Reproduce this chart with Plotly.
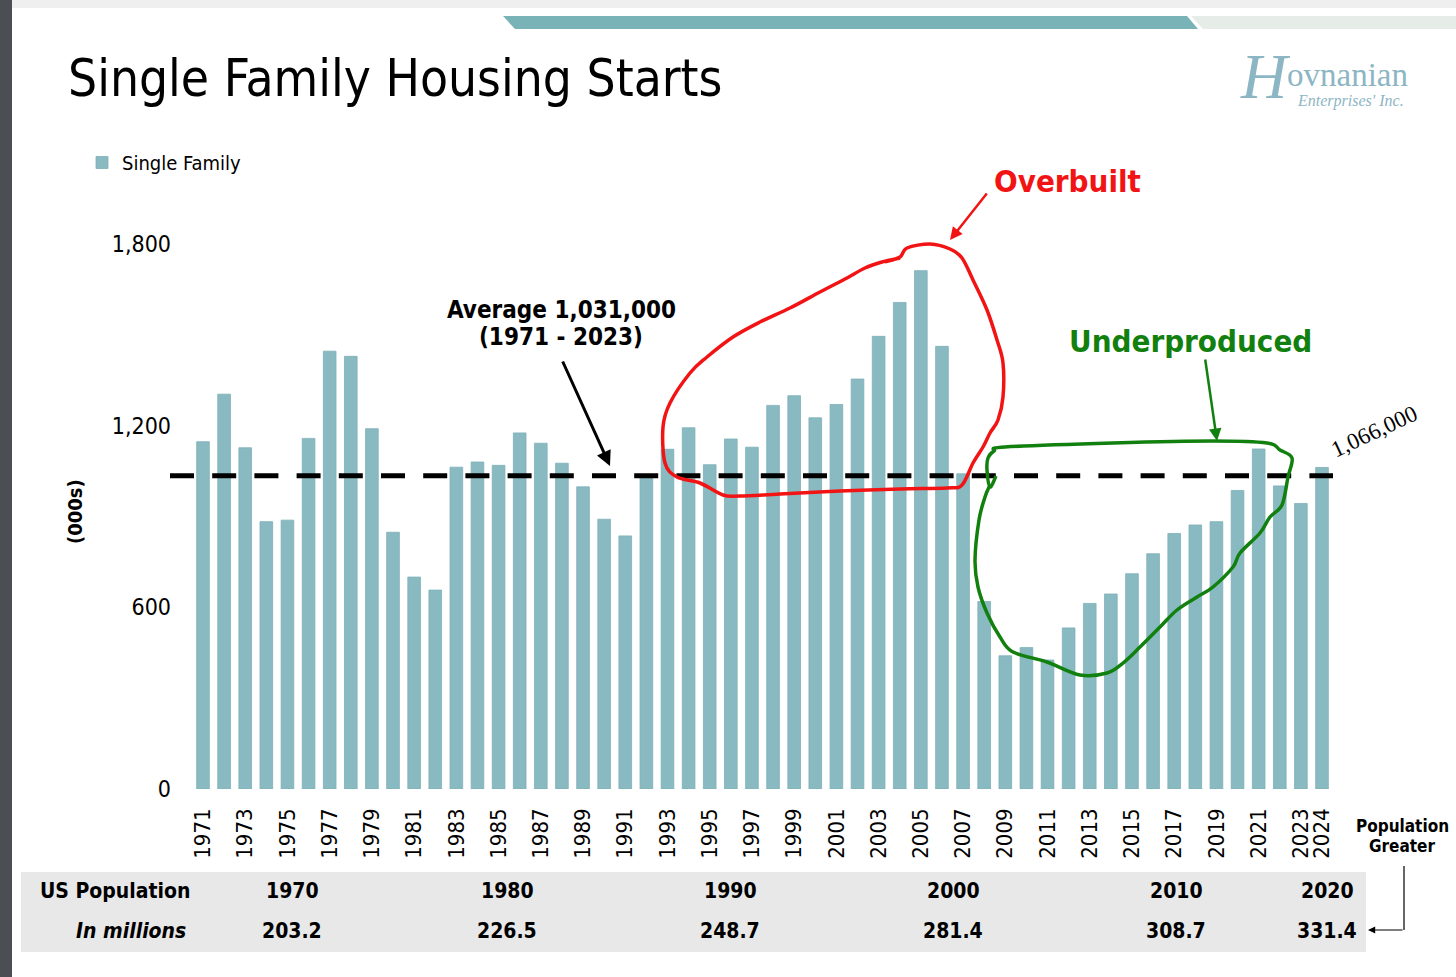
import plotly.graph_objects as go

# ---------------- data ----------------
years = list(range(1971, 2025))
starts = [1147, 1304, 1127, 883, 888, 1158, 1446, 1429, 1190, 848,
          700, 657, 1063, 1080, 1069, 1176, 1142, 1076, 998, 891,
          836, 1028, 1122, 1193, 1071, 1156, 1129, 1267, 1299, 1226,
          1270, 1354, 1495, 1607, 1712, 1462, 1041, 619, 440, 467,
          426, 532, 613, 644, 711, 777, 844, 872, 883, 986,
          1123, 1001, 943, 1062]
tick_years = list(range(1971, 2024, 2)) + [2024]
y_ticks = [0, 600, 1200, 1800]
y_tick_text = ["0", "600", "1,200", "1,800"]
avg_level = 1035
pop_years = ["1970", "1980", "1990", "2000", "2010", "2020"]
pop_values = ["203.2", "226.5", "248.7", "281.4", "308.7", "331.4"]

# ---------------- layout geometry ----------------
FW, FH = 1456, 977
L, R, T, B = 176, 1340, 200, 789
PW, PH = R - L, B - T
step = (1322 - 203) / 53.0
x_range = [1971 - (203 - L) / step, 2024 + (R - 1322) / step]
y_range = [0, 1800 * (B - T) / (789 - 244)]


def px(x):
    return (x - L) / PW


def py(y):
    return (B - y) / PH


FONT = "DejaVu Sans Condensed, DejaVu Sans, sans-serif"
SERIF = "Liberation Serif, DejaVu Serif, serif"
BAR = "#89BAC1"
RED = "#F21414"
GREEN = "#12800F"
LOGO = "#8DB6C4"


def smooth_path(pts):
    # Catmull-Rom -> cubic bezier, in paper coords
    P = [(px(a), py(b)) for a, b in pts]
    n = len(P)
    d = "M %.5f %.5f" % P[0]
    for i in range(n - 1):
        p0 = P[i - 1] if i > 0 else P[i]
        p1 = P[i]
        p2 = P[i + 1]
        p3 = P[i + 2] if i + 2 < n else P[i + 1]
        c1 = (p1[0] + (p2[0] - p0[0]) / 6, p1[1] + (p2[1] - p0[1]) / 6)
        c2 = (p2[0] - (p3[0] - p1[0]) / 6, p2[1] - (p3[1] - p1[1]) / 6)
        d += " C %.5f %.5f, %.5f %.5f, %.5f %.5f" % (c1[0], c1[1], c2[0], c2[1], p2[0], p2[1])
    return d


fig = go.Figure()
fig.add_trace(go.Bar(
    x=years, y=starts, name="Single Family",
    marker=dict(color=BAR, line=dict(color="#7DB0B7", width=0.8)),
    width=0.6, showlegend=True,
))

shapes = []
# slide decorations
shapes.append(dict(type="rect", xref="paper", yref="paper", x0=px(0), x1=px(12), y0=py(FH), y1=py(0),
                   fillcolor="#4B4F53", line=dict(width=0), layer="below"))
shapes.append(dict(type="rect", xref="paper", yref="paper", x0=px(12), x1=px(FW), y0=py(8), y1=py(0),
                   fillcolor="#EFEFEF", line=dict(width=0), layer="below"))
shapes.append(dict(type="path", xref="paper", yref="paper",
                   path="M %f %f L %f %f L %f %f L %f %f Z" % (px(503), py(16), px(1187), py(16), px(1198), py(29), px(515), py(29)),
                   fillcolor="#7AB3B7", line=dict(width=0), layer="below"))
shapes.append(dict(type="path", xref="paper", yref="paper",
                   path="M %f %f L %f %f L %f %f L %f %f Z" % (px(1191), py(16), px(FW), py(16), px(FW), py(29), px(1203), py(29)),
                   fillcolor="#E6ECE8", line=dict(width=0), layer="below"))
# population band
shapes.append(dict(type="rect", xref="paper", yref="paper", x0=px(21), x1=px(1366), y0=py(952), y1=py(872),
                   fillcolor="#E8E8E8", line=dict(width=0), layer="below"))
# average dashed line
shapes.append(dict(type="line", xref="paper", yref="y", x0=px(170), x1=px(1333), y0=avg_level, y1=avg_level,
                   line=dict(color="black", width=5, dash="24px,18.2px")))
# connector for population note
shapes.append(dict(type="line", xref="paper", yref="paper", x0=px(1404), x1=px(1404), y0=py(866), y1=py(930),
                   line=dict(color="black", width=1.2)))

# hand-drawn loops
red_pts = [(885, 262), (900, 257), (907, 248), (930, 244), (950, 249), (962, 258), (973, 280), (987, 310),
           (997, 340), (1003, 363), (1003, 397), (998, 420), (990, 433), (983, 447), (973, 463), (962, 485),
           (947, 488), (900, 489), (840, 491), (780, 494), (740, 496), (723, 495), (700, 483), (677, 477),
           (665, 463), (663, 427), (670, 403), (690, 373), (707, 357), (733, 337), (760, 322), (790, 308),
           (820, 292), (845, 279), (865, 268), (882, 262), (900, 258)]
green_pts = [(996, 476), (990, 487), (987, 470), (988, 458), (994, 451), (1005, 447), (1113, 443), (1213, 441),
             (1267, 443), (1280, 450), (1292, 458), (1288, 477), (1282, 505), (1270, 517), (1260, 533),
             (1240, 553), (1233, 567), (1213, 587), (1197, 597), (1177, 610), (1160, 627), (1140, 647),
             (1123, 663), (1107, 673), (1080, 675), (1047, 662), (1013, 652), (1000, 637), (987, 613),
             (978, 587), (975, 560), (979, 520), (985, 497), (990, 485)]
shapes.append(dict(type="path", xref="paper", yref="paper", path=smooth_path(red_pts),
                   line=dict(color=RED, width=3.5)))
shapes.append(dict(type="path", xref="paper", yref="paper", path=smooth_path(green_pts),
                   line=dict(color=GREEN, width=3.5)))

ann = []


def text(x, y, s, size, color="black", bold=False, italic=False, xanchor="center", family=FONT, angle=0):
    t = s
    if bold:
        t = "<b>" + t + "</b>"
    if italic:
        t = "<i>" + t + "</i>"
    ann.append(dict(x=px(x), y=py(y), xref="paper", yref="paper", text=t, showarrow=False,
                    xanchor=xanchor, yanchor="middle", textangle=angle,
                    font=dict(family=family, size=size, color=color)))


# title
text(66, 78, "Single Family Housing Starts", 51, xanchor="left")
# logo
text(1265, 77, "<i>H</i>", 64, color=LOGO, family=SERIF)
text(1347, 75, "ovnanian", 33, color=LOGO, family=SERIF)
text(1350, 101, "<i>Enterprises' Inc.</i>", 16, color=LOGO, family=SERIF)
# y title
text(75, 512, "(000s)", 20, bold=True, angle=-90)
# annotations
text(561, 310, "Average 1,031,000", 24, bold=True)
text(561, 337, "(1971 - 2023)", 24, bold=True)
text(992, 181, "Overbuilt", 31, color=RED, bold=True, xanchor="left")
text(1067, 341, "Underproduced", 31, color=GREEN, bold=True, xanchor="left")
text(1374, 431, "1,066,000", 23, family=SERIF, angle=-25)
text(1402, 826, "Population", 17, bold=True)
text(1402, 846, "Greater", 17, bold=True)
# population table
text(38, 891, "US Population", 21, bold=True, xanchor="left")
text(188, 931, "In millions", 21, bold=True, italic=True, xanchor="right")
col_px = [292, 507, 730, 953, 1176, 1327]
for cx, yr, val in zip(col_px, pop_years, pop_values):
    text(cx, 891, yr, 21, bold=True)
    text(cx, 931, val, 21, bold=True)


# arrows
def arrow(hx, hy, tx, ty, color, width, head=2, size=1.0):
    ann.append(dict(x=px(hx), y=py(hy), xref="paper", yref="paper", text="", showarrow=True,
                    ax=tx - hx, ay=ty - hy, arrowcolor=color, arrowwidth=width,
                    arrowhead=head, arrowsize=size))


arrow(610, 466, 562, 360, "black", 3, head=2, size=1.0)
arrow(950, 240, 988, 192, RED, 2.5, head=2, size=1.0)
arrow(1217, 441, 1205, 358, GREEN, 2.5, head=2, size=1.0)
arrow(1368, 930, 1404, 930, "black", 1.2, head=2, size=1.2)

fig.update_layout(
    width=FW, height=FH,
    margin=dict(l=L, r=FW - R, t=T, b=FH - B, pad=0),
    paper_bgcolor="white", plot_bgcolor="white",
    font=dict(family=FONT, size=20, color="black"),
    shapes=shapes, annotations=ann,
    bargap=0.4,
    legend=dict(x=px(82), y=py(143), xanchor="left", yanchor="top",
                font=dict(family=FONT, size=20, color="black"), bgcolor="rgba(0,0,0,0)",
                itemwidth=30),
    xaxis=dict(range=x_range, tickmode="array", tickvals=tick_years,
               ticktext=[str(y) for y in tick_years], tickangle=-90,
               tickfont=dict(family=FONT, size=22, color="black"),
               showgrid=False, zeroline=False, showline=False, ticks="",
               ticklabelstandoff=14),
    yaxis=dict(range=y_range, tickmode="array", tickvals=y_ticks, ticktext=y_tick_text,
               tickfont=dict(family=FONT, size=23, color="black"),
               showgrid=False, zeroline=False, showline=False, ticks="",
               ticklabelstandoff=4),
)

fig.write_html(
    "out.html",
    config={"displayModeBar": False},
    post_script="document.body.style.margin='0px';document.body.style.overflow='hidden';",
)
